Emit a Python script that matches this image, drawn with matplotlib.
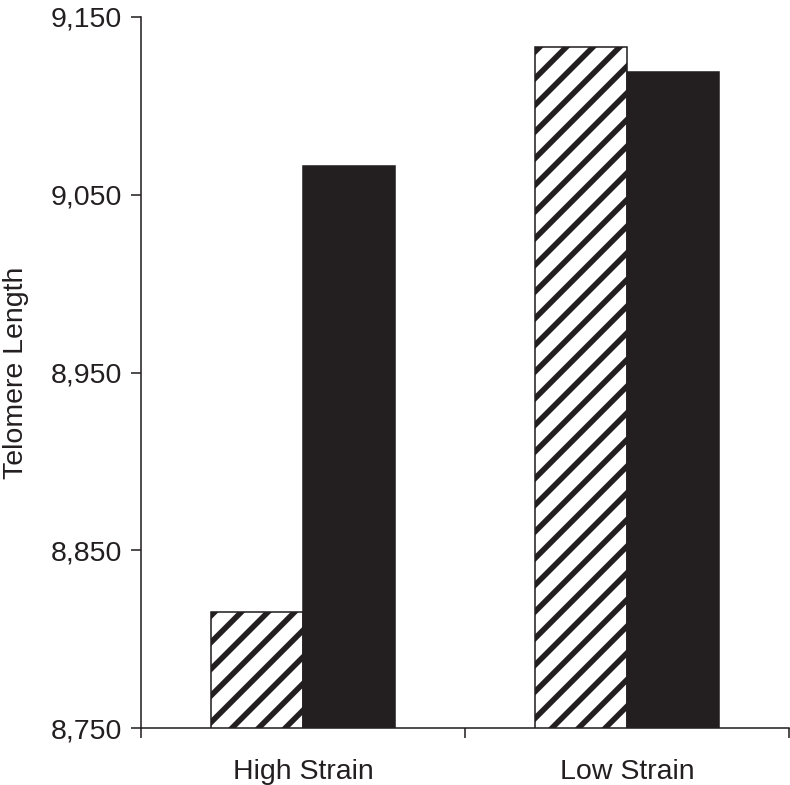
import numpy as np
import matplotlib
matplotlib.use("Agg")
import matplotlib.pyplot as plt

# values
categories = ["High Strain", "Low Strain"]
hatched_vals = [8815, 9133]
solid_vals = [9066, 9119]
y_ticks = [8750, 8850, 8950, 9050, 9150]

ink = "#231f20"
plt.rcParams['font.family'] = ['Liberation Sans', 'DejaVu Sans']
plt.rcParams['hatch.linewidth'] = 2.5
plt.rcParams['hatch.color'] = ink

dpi = 160
fig = plt.figure(figsize=(790 / dpi, 785 / dpi), dpi=dpi)
ax = fig.add_axes([141 / 790, 1 - 728 / 785, 648 / 790, (728 - 17) / 785])

x = np.arange(len(categories))
w = 0.283
ax.bar(x - w / 2, hatched_vals, width=w, color="white",
       edgecolor=ink, hatch="//", linewidth=0.7, zorder=2)
ax.bar(x + w / 2, solid_vals, width=w, color=ink, edgecolor=ink,
       linewidth=0.7, zorder=2)

ax.set_ylim(8750, 9150)
ax.set_xlim(-0.5, 1.5)
ax.set_yticks(y_ticks)
ax.set_yticklabels([f"{v:,}" for v in y_ticks])
ax.set_xticks([-0.5, 0.5, 1.5])
ax.set_xticklabels([])
ax.set_xticks(x, minor=True)
ax.set_xticklabels(categories, minor=True)
ax.tick_params(axis='x', which='minor', length=0, pad=14, labelsize=12.8, colors=ink)
ax.tick_params(axis='x', which='major', length=4.5, width=0.7, color=ink)
ax.tick_params(axis='y', length=4.5, width=0.7, pad=4, labelsize=12.8, colors=ink)

for s in ['top', 'right']:
    ax.spines[s].set_visible(False)
for s in ['left', 'bottom']:
    ax.spines[s].set_linewidth(0.7)
    ax.spines[s].set_color(ink)

ax.set_ylabel("Telomere Length", fontsize=12.8, color=ink, labelpad=10)

fig.savefig("out.png", dpi=dpi)
